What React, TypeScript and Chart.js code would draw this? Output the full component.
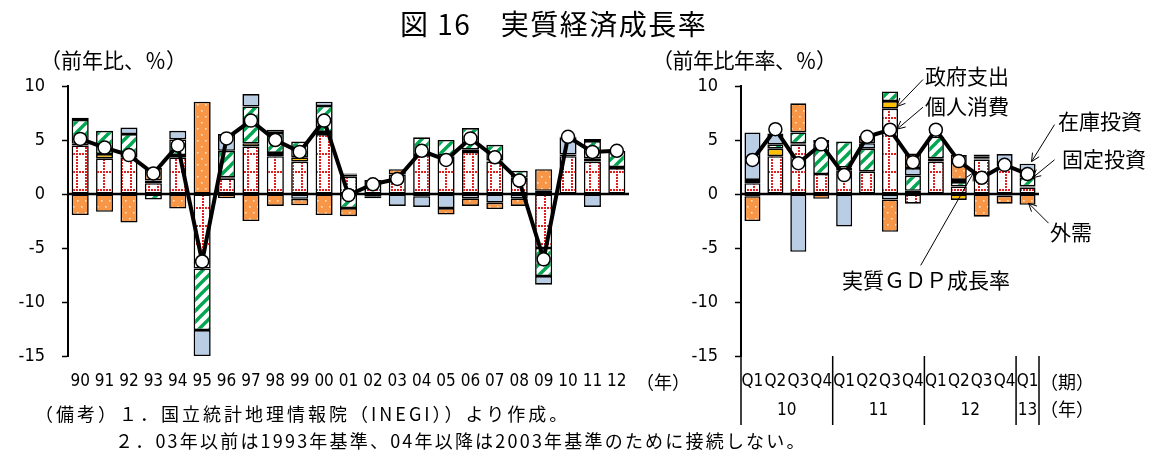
import React, { useEffect, useRef } from 'react';
import { Chart, registerables } from 'chart.js';

Chart.register(...registerables);

// ---------------- data ----------------
const yearLabels = ['90','91','92','93','94','95','96','97','98','99','00','01','02','03','04','05','06','07','08','09','10','11','12'];
const yearConsumption = [4.5, 3.3, 3.4, 1.0, 3.4, -6.9, 1.45, 4.4, 3.5, 3.0, 5.55, 1.6, 1.3, 1.8, 3.6, 3.45, 3.9, 3.0, 1.3, -5.0, 3.5, 3.0, 2.4];
const yearGovernment = [0.15, 0.4, 0.2, 0.25, 0.2, 0, 0.1, 0.3, 0.3, 0.4, 0.2, 0.2, 0, 0, -0.2, 0.1, 0.2, 0.1, 0.2, 0.3, 0.15, 0.3, 0.1];
const yearFixedInvestment = [2.2, 2.15, 1.95, -0.5, 1.45, -5.7, 2.45, 3.4, 1.85, 1.45, 2.4, -1.3, -0.2, 0, 1.65, 1.45, 2.0, 1.45, 0.65, -2.6, 0, 1.6, 1.5];
const yearInventory = [0.2, 0, 0.6, 0, 0.8, -2.4, 1.55, 1.15, 0.3, -0.45, 0.4, 0.1, -0.2, -1.1, -1.0, -1.3, -0.4, -0.8, -0.4, -0.8, 1.6, -1.2, 0];
const yearNetExports = [-1.95, -1.65, -2.65, 1.15, -1.35, 8.55, -0.4, -2.5, -1.1, -0.6, -1.95, -0.75, 0, 0.5, 0, -0.6, -0.7, -0.6, -0.7, 2.0, 0.05, 0.2, 0];
const yearGDP = [5.1, 4.3, 3.6, 1.9, 4.5, -6.25, 5.15, 6.8, 5.0, 3.9, 6.8, -0.1, 0.9, 1.4, 4.0, 3.15, 5.15, 3.4, 1.25, -6.05, 5.3, 3.9, 4.0];

const quarterLabels = ['Q1','Q2','Q3','Q4','Q1','Q2','Q3','Q4','Q1','Q2','Q3','Q4','Q1'];
const quarterYearLabels = ['10','11','12','13'];
const quarterYearCounts = [4, 4, 4, 1];
const quarterConsumption = [1.0, 3.5, 4.6, 1.85, 2.2, 2.1, 7.9, -0.9, 3.0, 0.7, 3.2, 2.55, 0.6];
const quarterGovernment = [0.3, 0.7, 0.1, 0, 0.25, 0, 0.7, 0.3, 0.3, -0.55, 0.1, 0, 0.1];
const quarterFixedInvestment = [-0.2, 0.4, 1.0, 2.85, 2.4, 2.1, 0.9, 1.4, 2.0, 0.4, 0.2, -0.15, 0.8];
const quarterInventory = [4.4, 1.0, -5.35, 0.3, -3.0, 0.5, -0.5, 0.7, 0, 0.2, 0.15, 1.15, 1.3];
const quarterNetExports = [-2.3, 0, 2.7, -0.45, 0, 0.7, -3.0, 1.35, 0, 2.3, -2.1, -0.75, -1.0];
const quarterGDP = [3.15, 6.0, 2.85, 4.6, 1.75, 5.3, 5.95, 2.95, 5.95, 3.05, 1.5, 2.7, 1.85];

const yMin = -15;
const yMax = 10;
const yStep = 5;

// ---------------- styling helpers ----------------
const NUM_FONT = "'Liberation Sans Narrow', 'DejaVu Sans Condensed', 'Liberation Sans', sans-serif";
const JP_FONT = "'Noto Sans CJK JP', 'Noto Sans', sans-serif";

function makeTile(w: number, h: number, draw: (g: CanvasRenderingContext2D) => void) {
  const c = document.createElement('canvas');
  c.width = w;
  c.height = h;
  const g = c.getContext('2d') as CanvasRenderingContext2D;
  draw(g);
  return g.createPattern(c, 'repeat') as CanvasPattern;
}

function makePatterns() {
  const consumption = makeTile(9, 18, (g) => {
    g.fillStyle = '#ffffff';
    g.fillRect(0, 0, 9, 18);
    g.fillStyle = '#e02020';
    for (let y = 0; y < 18; y += 3) g.fillRect(4, y, 2, 2);
    for (let x = 0; x < 9; x += 3) g.fillRect(x + 1, 9, 2, 2);
  });
  const fixed = makeTile(11, 11, (g) => {
    g.fillStyle = '#ffffff';
    g.fillRect(0, 0, 11, 11);
    g.strokeStyle = '#00a650';
    g.lineWidth = 3.4;
    for (const k of [-11, 0, 11]) {
      g.beginPath();
      g.moveTo(k - 1, 12);
      g.lineTo(k + 12, -1);
      g.stroke();
    }
  });
  const exportsP = makeTile(8, 12, (g) => {
    g.fillStyle = '#f79646';
    g.fillRect(0, 0, 8, 12);
    g.fillStyle = '#fde3cc';
    g.fillRect(1, 2, 1.6, 1.6);
    g.fillRect(5, 8, 1.6, 1.6);
  });
  return { consumption, fixed, exportsP };
}

function barSet(label: string, data: number[], bg: any) {
  return {
    type: 'bar' as const,
    label,
    data,
    backgroundColor: bg,
    borderColor: '#000',
    borderWidth: 1.6,
    borderSkipped: false,
    stack: 'parts',
    barPercentage: 0.7,
    categoryPercentage: 1,
    order: 1,
  };
}

function lineSet(data: number[]) {
  return {
    type: 'line' as const,
    label: '実質ＧＤＰ成長率',
    data,
    borderColor: '#000',
    borderWidth: 4,
    pointRadius: 6.5,
    pointBorderWidth: 1.5,
    pointBackgroundColor: '#fff',
    pointBorderColor: '#000',
    stack: 'gdp',
    order: -1,
    tension: 0,
  };
}

const zeroLinePlugin = {
  id: 'zeroLine',
  beforeDatasetDraw(chart: any, args: any) {
    const ds = chart.data.datasets[args.index];
    if (ds.type !== 'line') return;
    const { ctx, chartArea, scales } = chart;
    const y = scales.y.getPixelForValue(0);
    ctx.save();
    ctx.strokeStyle = '#000';
    ctx.lineWidth = 2.5;
    ctx.beginPath();
    ctx.moveTo(chartArea.left, y);
    ctx.lineTo(chartArea.right, y);
    ctx.stroke();
    ctx.restore();
  },
};

const quarterAxisPlugin = {
  id: 'quarterAxis',
  afterDraw(chart: any) {
    const { ctx, chartArea, scales } = chart;
    const x = scales.x;
    const step = x.getPixelForValue(1) - x.getPixelForValue(0);
    ctx.save();
    ctx.strokeStyle = '#000';
    ctx.lineWidth = 1.5;
    ctx.fillStyle = '#000';
    ctx.font = `17px ${NUM_FONT}`;
    ctx.textAlign = 'center';
    ctx.textBaseline = 'middle';
    let start = 0;
    const drawSep = (px: number) => {
      ctx.beginPath();
      ctx.moveTo(px, chartArea.bottom);
      ctx.lineTo(px, chartArea.bottom + 69);
      ctx.stroke();
    };
    drawSep(x.getPixelForValue(0) - step / 2);
    quarterYearCounts.forEach((n, i) => {
      const left = x.getPixelForValue(start) - step / 2;
      const right = x.getPixelForValue(start + n - 1) + step / 2;
      drawSep(right);
      ctx.fillText(quarterYearLabels[i], (left + right) / 2, chartArea.bottom + 55);
      start += n;
    });
    ctx.restore();
  },
};

type Note = { idx: number; value: number; dx: number; sx: number; sy: number };
const noteArrows: Note[] = [
  { idx: 6, value: 8.1, dx: 7, sx: 26, sy: -27 },
  { idx: 6, value: 6.0, dx: 7, sx: 26, sy: -22 },
  { idx: 12, value: 3.0, dx: 4, sx: 23, sy: -37 },
  { idx: 12, value: 1.5, dx: 5, sx: 22, sy: -18 },
  { idx: 12, value: -0.85, dx: 1, sx: 20, sy: 20 },
  { idx: 10, value: 2.0, dx: -8, sx: -53, sy: 93 },
];

const arrowPlugin = {
  id: 'noteArrows',
  afterDraw(chart: any) {
    const { ctx, scales } = chart;
    ctx.save();
    ctx.strokeStyle = '#000';
    ctx.lineWidth = 1;
    for (const a of noteArrows) {
      const tx = scales.x.getPixelForValue(a.idx) + a.dx;
      const ty = scales.y.getPixelForValue(a.value);
      const fx = tx + a.sx;
      const fy = ty + a.sy;
      ctx.beginPath();
      ctx.moveTo(fx, fy);
      ctx.lineTo(tx, ty);
      ctx.stroke();
      const ang = Math.atan2(fy - ty, fx - tx);
      const len = 9;
      ctx.beginPath();
      ctx.moveTo(tx + len * Math.cos(ang + 0.45), ty + len * Math.sin(ang + 0.45));
      ctx.lineTo(tx, ty);
      ctx.lineTo(tx + len * Math.cos(ang - 0.45), ty + len * Math.sin(ang - 0.45));
      ctx.stroke();
    }
    ctx.restore();
  },
};

function buildConfig(labels: string[], c: number[], g: number[], f: number[], inv: number[], nx: number[], gdp: number[], axisWidth: number, padRight: number, xFontSize: number, plugins: any[]) {
  const p = makePatterns();
  return {
    type: 'bar' as const,
    data: {
      labels,
      datasets: [
        barSet('個人消費', c, p.consumption),
        barSet('政府支出', g, '#ffc000'),
        barSet('固定投資', f, p.fixed),
        barSet('在庫投資', inv, '#b9cde5'),
        barSet('外需', nx, p.exportsP),
        lineSet(gdp),
      ] as any[],
    },
    options: {
      animation: false as const,
      responsive: false,
      maintainAspectRatio: false,
      layout: { padding: { top: 86, right: padRight, bottom: 0, left: 0 } },
      plugins: { legend: { display: false }, tooltip: { enabled: false } },
      scales: {
        x: {
          stacked: true,
          grid: { display: false, drawTicks: false },
          border: { display: false },
          ticks: {
            color: '#000',
            font: { family: NUM_FONT, size: xFontSize },
            padding: 15,
            maxRotation: 0,
            autoSkip: false,
          },
          afterFit: (s: any) => { s.height = 103; },
        },
        y: {
          stacked: true,
          min: yMin,
          max: yMax,
          ticks: {
            stepSize: yStep,
            color: '#000',
            font: { family: NUM_FONT, size: 18 },
            padding: 17,
          },
          grid: { drawOnChartArea: false, tickLength: 6, tickColor: '#000', tickWidth: 1.5 },
          border: { display: true, color: '#000', width: 2 },
          afterFit: (s: any) => { s.width = axisWidth; },
        },
      },
    },
    plugins,
  };
}

function ChartCanvas(props: { build: () => any; left: number; width: number }) {
  const ref = useRef<HTMLCanvasElement | null>(null);
  useEffect(() => {
    if (!ref.current) return;
    const chart = new Chart(ref.current, props.build());
    return () => chart.destroy();
  }, []);
  return (
    <canvas
      ref={ref}
      width={props.width}
      height={459}
      style={{ position: 'absolute', left: props.left, top: 0, width: props.width, height: 459 }}
    />
  );
}

const textStyle = (left: number, top: number, size: number, extra: any = {}) => ({
  position: 'absolute' as const,
  left,
  top,
  fontSize: size,
  lineHeight: 1,
  fontFamily: JP_FONT,
  color: '#000',
  whiteSpace: 'nowrap' as const,
  ...extra,
});

export default function App() {
  return (
    <div style={{ position: 'absolute', left: 0, top: 0, width: 1152, height: 459, background: '#fff', overflow: 'hidden' }}>
      <ChartCanvas
        left={0}
        width={700}
        build={() => buildConfig(yearLabels, yearConsumption, yearGovernment, yearFixedInvestment, yearInventory, yearNetExports, yearGDP, 68, 71, 17, [zeroLinePlugin])}
      />
      <ChartCanvas
        left={650}
        width={502}
        build={() => buildConfig(quarterLabels, quarterConsumption, quarterGovernment, quarterFixedInvestment, quarterInventory, quarterNetExports, quarterGDP, 91, 113, 17, [zeroLinePlugin, quarterAxisPlugin, arrowPlugin])}
      />
      <div style={textStyle(400, 9, 28, { letterSpacing: 1.5 })}>図 16　実質経済成長率</div>
      <div style={textStyle(40, 49, 21)}>（前年比、％）</div>
      <div style={textStyle(652, 49, 21, { letterSpacing: -0.5 })}>（前年比年率、％）</div>
      <div style={textStyle(636, 372, 18)}>（年）</div>
      <div style={textStyle(1040, 372, 18)}>（期）</div>
      <div style={textStyle(1040, 399, 18)}>（年）</div>
      <div style={textStyle(925, 65, 21)}>政府支出</div>
      <div style={textStyle(925, 95, 21)}>個人消費</div>
      <div style={textStyle(1058, 110, 21)}>在庫投資</div>
      <div style={textStyle(1062, 148, 21)}>固定投資</div>
      <div style={textStyle(1050, 221, 21)}>外需</div>
      <div style={textStyle(842, 269, 21)}>実質ＧＤＰ成長率</div>
      <div style={textStyle(35, 404, 18, { letterSpacing: 3 })}>（備考）１．国立統計地理情報院（INEGI））より作成。</div>
      <div style={textStyle(115, 431, 18, { letterSpacing: 2.2 })}>２．03年以前は1993年基準、04年以降は2003年基準のために接続しない。</div>
    </div>
  );
}
